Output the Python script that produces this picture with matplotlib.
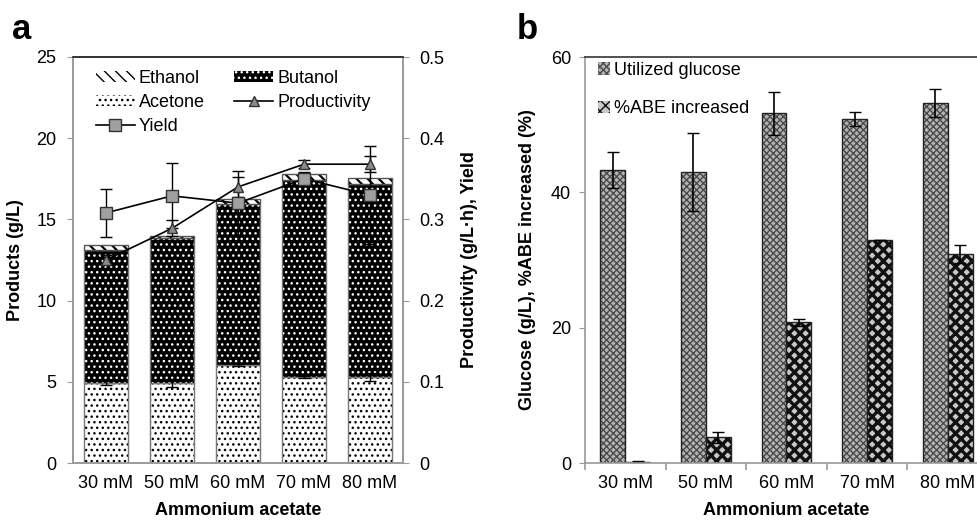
import numpy as np
import matplotlib
matplotlib.use('Agg')
import matplotlib.pyplot as plt

plt.rcParams['font.family'] = ['Liberation Sans', 'DejaVu Sans']
plt.rcParams['hatch.linewidth'] = 1.0

# data
conc = ['30 mM', '50 mM', '60 mM', '70 mM', '80 mM']

acetone   = [4.93, 4.93, 6.03, 5.30, 5.30]
acetone_e = [0.10, 0.25, 0.08, 0.05, 0.25]
butanol   = [8.20, 8.92, 9.92, 12.15, 11.88]
ethanol   = [0.27, 0.12, 0.30, 0.35, 0.37]

productivity   = [0.250, 0.289, 0.340, 0.368, 0.368]
productivity_e = [0.006, 0.010, 0.012, 0.005, 0.010]
yield_         = [0.308, 0.329, 0.320, 0.350, 0.330]
yield_e        = [0.030, 0.040, 0.040, 0.008, 0.060]

glucose   = [43.3, 43.0, 51.7, 50.8, 53.2]
glucose_e = [2.7, 5.7, 3.2, 1.0, 2.1]
abe       = [0.1, 3.8, 20.8, 33.0, 30.9]
abe_e     = [0.2, 0.8, 0.5, 0.0, 1.3]

GREY = '#9a9a9a'
DARK = '#333333'


def style_spines(ax):
    for s in ['left', 'bottom', 'right']:
        ax.spines[s].set_color(GREY)
        ax.spines[s].set_linewidth(1.2)
    ax.spines['top'].set_color(DARK)
    ax.spines['top'].set_linewidth(1.2)


def plot_products(ax):
    x = np.arange(len(conc))
    w = 0.66
    bottom2 = np.array(acetone) + np.array(butanol)

    h_ac = ax.bar(x, acetone, w, color='white', edgecolor='black', hatch='...', linewidth=0)
    ax.bar(x, acetone, w, fill=False, edgecolor='#777777', linewidth=1.0)
    h_bu = ax.bar(x, butanol, w, bottom=acetone, color='black', edgecolor='white', hatch='...', linewidth=0)
    ax.bar(x, butanol, w, bottom=acetone, fill=False, edgecolor='#777777', linewidth=1.0)
    with plt.rc_context({'hatch.linewidth': 1.6}):
        h_et = ax.bar(x, ethanol, w, bottom=bottom2, color='white', edgecolor='black', hatch='\\\\\\', linewidth=0)
    ax.bar(x, ethanol, w, bottom=bottom2, fill=False, edgecolor='#555555', linewidth=1.0)
    ax.errorbar(x, acetone, yerr=acetone_e, fmt='none', ecolor='black', capsize=4, elinewidth=1.0)

    ax.set_xlim(-0.5, len(conc) - 0.5)
    ax.set_ylim(0, 25)
    ax.set_yticks([0, 5, 10, 15, 20, 25])
    ax.set_xticks(x)
    ax.set_xticklabels(conc)
    ax.tick_params(axis='x', length=0, labelsize=13, pad=9)
    ax.tick_params(axis='y', length=4, color=GREY, labelsize=13, pad=8)
    ax.set_xlabel('Ammonium acetate', fontsize=13, fontweight='bold', labelpad=7)
    ax.set_ylabel('Products (g/L)', fontsize=13, fontweight='bold', labelpad=9)
    style_spines(ax)

    ax2 = ax.twinx()
    h_pr = ax2.errorbar(x, productivity, yerr=productivity_e, color='black', lw=1.2,
                        marker='^', ms=7, mfc='#8a8a8a', mec='#333333',
                        capsize=4, elinewidth=1.0, ecolor='black')
    h_yi = ax2.errorbar(x, yield_, yerr=yield_e, color='black', lw=1.2,
                        marker='s', ms=8, mfc='#a0a0a0', mec='#333333',
                        capsize=4, elinewidth=1.0, ecolor='black')
    ax2.set_ylim(0, 0.5)
    ax2.set_yticks([0, 0.1, 0.2, 0.3, 0.4, 0.5])
    ax2.set_yticklabels(['0', '0.1', '0.2', '0.3', '0.4', '0.5'])
    ax2.tick_params(axis='y', length=4, color=GREY, labelsize=13, pad=8)
    ax2.set_ylabel('Productivity (g/L\u00b7h), Yield', fontsize=13, fontweight='bold', labelpad=12)
    style_spines(ax2)

    handles = [h_et, h_ac, h_yi[0], h_bu, h_pr[0]]
    labels = ['Ethanol', 'Acetone', 'Yield', 'Butanol', 'Productivity']
    ax2.legend(handles, labels, ncol=2, loc='upper left', bbox_to_anchor=(0.03, 1.0),
               frameon=False, fontsize=13, handlelength=2.2, handleheight=0.6,
               handletextpad=0.2, columnspacing=1.6, labelspacing=0.4, borderaxespad=0.3)


def plot_glucose(ax):
    x = np.arange(len(conc))
    w = 0.31

    h_gl = ax.bar(x - w / 2, glucose, w, color='#b4b4b4', edgecolor='#4a4a4a', hatch='xxxxx', linewidth=0)
    ax.bar(x - w / 2, glucose, w, fill=False, edgecolor='#222222', linewidth=1.0)
    with plt.rc_context({'hatch.linewidth': 2.4}):
        h_ab = ax.bar(x + w / 2, abe, w, color='#c8c8c8', edgecolor='#111111', hatch='xxx', linewidth=0)
    ax.bar(x + w / 2, abe, w, fill=False, edgecolor='#222222', linewidth=1.0)
    ax.errorbar(x - w / 2, glucose, yerr=glucose_e, fmt='none', ecolor='black', capsize=4, elinewidth=1.2)
    ax.errorbar(x + w / 2, abe, yerr=abe_e, fmt='none', ecolor='black', capsize=4, elinewidth=1.2)

    ax.set_xlim(-0.5, len(conc) - 0.5)
    ax.set_ylim(0, 60)
    ax.set_yticks([0, 20, 40, 60])
    ax.set_xticks(x)
    ax.set_xticklabels(conc)
    ax.set_xticks(np.arange(len(conc) + 1) - 0.5, minor=True)
    ax.tick_params(axis='x', which='major', length=0, labelsize=13, pad=9)
    ax.tick_params(axis='x', which='minor', length=5, color=GREY, width=1.2)
    ax.tick_params(axis='y', length=4, color=GREY, labelsize=13, pad=6)
    ax.set_xlabel('Ammonium acetate', fontsize=13, fontweight='bold', labelpad=7)
    ax.set_ylabel('Glucose (g/L), %ABE increased (%)', fontsize=13, fontweight='bold', labelpad=11)
    style_spines(ax)

    ax.legend([h_gl, h_ab], ['Utilized glucose', '%ABE increased'], loc='upper left',
              bbox_to_anchor=(0.0, 1.02), frameon=False, fontsize=13, handlelength=0.7,
              handleheight=0.7, handletextpad=0.2, labelspacing=1.2, borderaxespad=0.3)


def main():
    fig = plt.figure(figsize=(9.77, 5.21), dpi=100)

    ax_a = fig.add_axes([73 / 977, 1 - 463 / 521, 330 / 977, 406 / 521])
    ax_b = fig.add_axes([585 / 977, 1 - 463 / 521, 403 / 977, 406 / 521])

    plot_products(ax_a)
    plot_glucose(ax_b)

    fig.text(12 / 977, 1 - 39 / 521, 'a', fontsize=25, fontweight='bold')
    fig.text(517 / 977, 1 - 39 / 521, 'b', fontsize=25, fontweight='bold')

    fig.savefig('out.png', dpi=100)
    plt.close(fig)


if __name__ == "__main__":
    main()
